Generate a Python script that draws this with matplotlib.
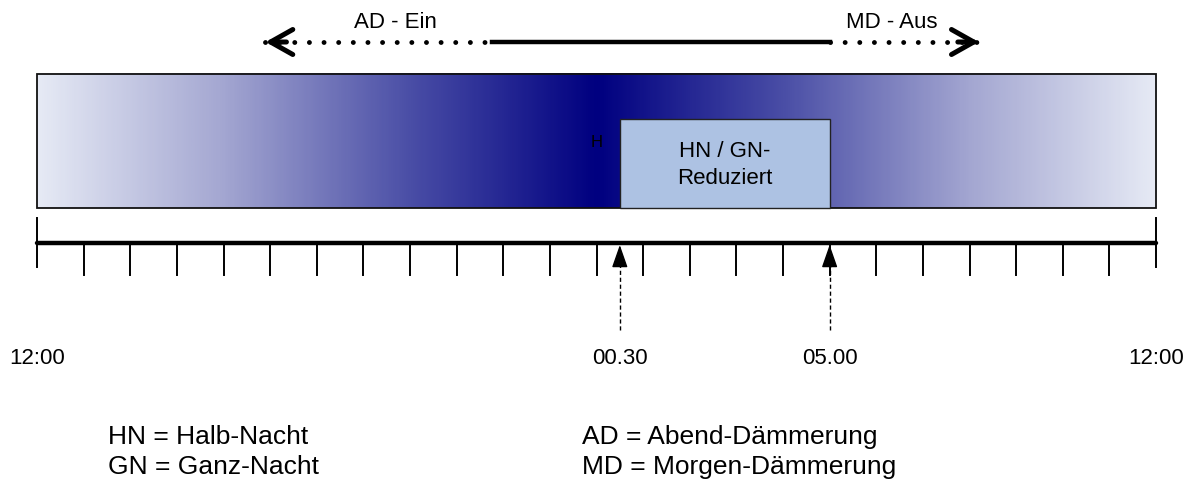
import numpy as np
import matplotlib.pyplot as plt
from matplotlib.colors import LinearSegmentedColormap
from matplotlib.patches import Rectangle

plt.rcParams['font.family'] = ['Liberation Sans', 'DejaVu Sans']

# =====================================
# Data (x = hours after 12:00 noon)
# =====================================
hours = np.arange(0, 25)
label_hours = [0, 12.5, 17, 24]
time_labels = ['12:00', '00.30', '05.00', '12:00']
reduced_start = 12.5
reduced_end = 17.0
darkest_hour = 12.0
reduced_text = 'HN / GN-\nReduziert'

ad_dotted = [4.9, 9.75]
on_solid = [9.75, 17.0]
md_dotted = [17.0, 20.2]
top_labels = ['AD - Ein', 'MD - Aus']
top_label_hours = [7.68, 18.34]

legend_left = ['HN = Halb-Nacht', 'GN = Ganz-Nacht']
legend_right = ['AD = Abend-Dämmerung', 'MD = Morgen-Dämmerung']

# =====================================
# Figure: x in hours, y in pixels (top = 0)
# =====================================
W, H = 1187, 486
px_per_hour = 1119 / 24
fig = plt.figure(figsize=(W / 100, H / 100), dpi=100)
ax = fig.add_axes([0, 0, 1, 1])
ax.set_xlim(-37 / px_per_hour, 24 + 31 / px_per_hour)
ax.set_ylim(H, 0)
ax.axis('off')

# gradient band
cmap = LinearSegmentedColormap.from_list('night', ['#e6eaf5', '#a3a6d1', '#4a4ea6', '#000080'])
xs = np.linspace(0, 24, 600)
vals = 1 - np.abs(xs - darkest_hour) / 12
ax.imshow(vals[np.newaxis, :], cmap=cmap, vmin=0, vmax=1, aspect='auto',
          extent=[0, 24, 208, 74], interpolation='bilinear', zorder=1)
ax.add_patch(Rectangle((0, 74), 24, 134, fill=False, edgecolor='#111111', lw=1.3, zorder=2))

# reduced box
ax.add_patch(Rectangle((reduced_start, 119), reduced_end - reduced_start, 89,
                       facecolor='#adc2e3', edgecolor='#222222', lw=1.0, zorder=3))
ax.text((reduced_start + reduced_end) / 2, 165, reduced_text, ha='center', va='center',
        fontsize=16, linespacing=1.35, zorder=4)
ax.text(darkest_hour, 142, 'H', ha='center', va='center', fontsize=12, zorder=4)

# timeline
ax.plot([0, 24], [243, 243], color='black', lw=3.2, solid_capstyle='round', zorder=3)
for h in hours[1:-1]:
    ax.plot([h, h], [243, 275], color='black', lw=1.4, zorder=3)
for h in [hours[0], hours[-1]]:
    ax.plot([h, h], [218, 267], color='black', lw=1.4, zorder=3)

# up arrows at reduction start / end
for h in [reduced_start, reduced_end]:
    ax.plot([h, h], [330, 258], color='black', lw=1.0, ls=(0, (3, 2)), zorder=3)
    ax.annotate('', xy=(h, 245), xytext=(h, 262),
                arrowprops=dict(arrowstyle='-|>,head_length=1.0,head_width=0.35',
                                color='black', lw=1.0, mutation_scale=14,
                                shrinkA=0, shrinkB=0), zorder=4)

for h, lab in zip(label_hours, time_labels):
    ax.text(h, 358, lab, ha='center', va='center', fontsize=16)

# top AD / MD indicator
y_top = 42
ax.plot(ad_dotted, [y_top, y_top], color='black', lw=3.5, ls=(0, (0.01, 3)),
        dash_capstyle='round')
ax.plot(on_solid, [y_top, y_top], color='black', lw=3.2)
ax.plot(md_dotted, [y_top, y_top], color='black', lw=3.5, ls=(0, (0.01, 3)),
        dash_capstyle='round')
head = dict(arrowstyle='->,head_length=0.8,head_width=0.45', color='black', lw=3.6,
            mutation_scale=20, shrinkA=0, shrinkB=0, capstyle='round')
ax.annotate('', xy=(ad_dotted[0], y_top), xytext=(ad_dotted[0] + 0.45, y_top), arrowprops=head)
ax.annotate('', xy=(md_dotted[1], y_top), xytext=(md_dotted[1] - 0.45, y_top), arrowprops=head)
for h, lab in zip(top_label_hours, top_labels):
    ax.text(h, 22, lab, ha='center', va='center', fontsize=16)

# legend text
for i, (l, r) in enumerate(zip(legend_left, legend_right)):
    y = 437 + i * 30
    ax.text(1.52, y, l, ha='left', va='center', fontsize=19)
    ax.text(11.69, y, r, ha='left', va='center', fontsize=19)

fig.savefig('out.png', dpi=100)
